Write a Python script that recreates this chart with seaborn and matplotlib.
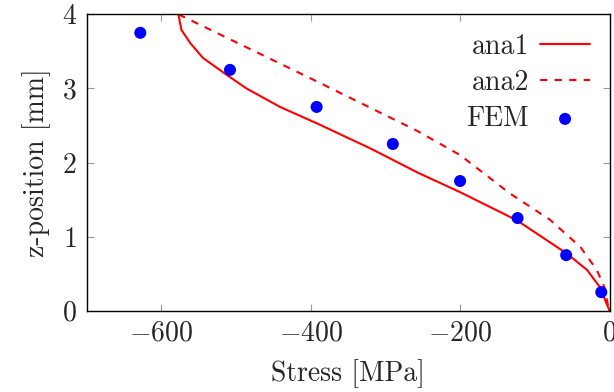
import matplotlib
matplotlib.use("Agg")
import matplotlib.pyplot as plt
import seaborn as sns
import pandas as pd

sns.set_style("ticks")
plt.rcParams['font.family'] = ['cmr10']
plt.rcParams['mathtext.fontset'] = 'cm'
plt.rcParams['axes.formatter.use_mathtext'] = True
plt.rcParams['font.size'] = 20

# data
ana1_stress = [-577, -573, -561, -544, -512, -486, -441, -392, -320, -256, -200, -124, -57, -30, -13, 0]
ana1_z = [4.0, 3.79, 3.61, 3.41, 3.18, 3.00, 2.75, 2.53, 2.19, 1.86, 1.60, 1.22, 0.77, 0.55, 0.32, 0.0]
ana2_stress = [-577, -401, -258, -200, -133, -80, -39, -17, -7, -1.6, 0]
ana2_z = [4.0, 3.14, 2.43, 2.10, 1.58, 1.23, 0.86, 0.55, 0.32, 0.05, 0.0]
fem_stress = [-628, -508, -392, -290, -200, -123, -58, -11]
fem_z = [3.75, 3.25, 2.75, 2.25, 1.75, 1.25, 0.75, 0.25]

df1 = pd.DataFrame({"stress": ana1_stress, "z": ana1_z})
df2 = pd.DataFrame({"stress": ana2_stress, "z": ana2_z})
df3 = pd.DataFrame({"stress": fem_stress, "z": fem_z})

fig = plt.figure(figsize=(6.14, 3.92), dpi=100)
ax = fig.add_axes([0.1409, 0.2074, 0.8518, 0.7561])

sns.lineplot(data=df1, x="stress", y="z", sort=False, estimator=None, color="red",
             linewidth=1.5, label="ana1", ax=ax)
sns.lineplot(data=df2, x="stress", y="z", sort=False, estimator=None, color="red",
             linewidth=1.5, linestyle=(0, (3.5, 3.5)), label="ana2", ax=ax)
sns.scatterplot(data=df3, x="stress", y="z", color="blue", s=75, edgecolor="none",
                label="FEM", ax=ax, zorder=3)

ax.set_xlim(-700, 0)
ax.set_ylim(0, 4)
ax.set_xticks([-600, -400, -200, 0])
ax.set_yticks([0, 1, 2, 3, 4])
ax.set_xlabel("Stress [MPa]", labelpad=9)
ax.set_ylabel("z-position [mm]", labelpad=8)
ax.tick_params(direction="in", length=5, width=0.8, color="#999999",
               top=True, right=True, pad=7, labelsize=20)
for sp in ax.spines.values():
    sp.set_visible(True)
    sp.set_linewidth(1.0)
    sp.set_color("black")

ax.legend(loc="upper right", frameon=False, markerfirst=False, fontsize=20,
          handlelength=1.8, labelspacing=0.35, borderaxespad=0.4, handletextpad=0.4,
          borderpad=0.3)

fig.savefig("out.png", dpi=100)
